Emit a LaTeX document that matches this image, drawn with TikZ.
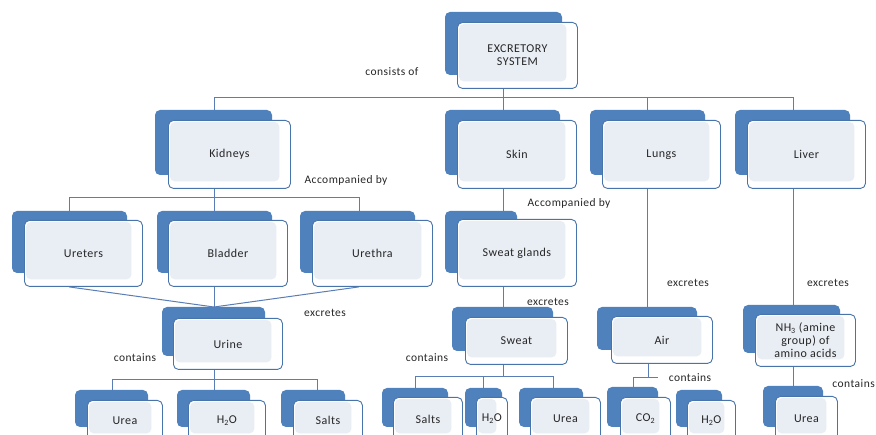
\documentclass[tikz,border=0pt]{standalone}
\usepackage{fontspec}
\setmainfont{Carlito}[LetterSpace=4]
\usetikzlibrary{calc}
\pgfdeclarelayer{bg}\pgfsetlayers{bg,main}
\definecolor{bblue}{HTML}{4F81BD}
\definecolor{lnblue}{HTML}{5A7DB5}
\definecolor{lite}{HTML}{E9EDF4}
\definecolor{tx}{HTML}{262626}
\tikzset{
  bk/.style={fill=bblue, rounded corners=5pt},
  fr/.style={draw=bblue!90!black, line width=0.9pt, fill=white, rounded corners=5pt,
    inner sep=1pt, align=center, text=tx, font=\fontsize{12}{13}\selectfont,
    path picture={\fill[lite] ([shift={(1.5pt,-1.5pt)}]path picture bounding box.north west)
      rectangle ([shift={(-11pt,7pt)}]path picture bounding box.south east);}},
  ln/.style={draw=lnblue, line width=1pt},
  lbl/.style={text=tx, font=\fontsize{11.5}{13}\selectfont, inner sep=0pt},
}
% name, back x1, back y1, front x1, front y1, front x2, front y2, text, back x2
\newcommand\ebox[9]{%
  \fill[bk] (#2,#3) rectangle (#9,#7-13);
  \node[fr, anchor=north west, minimum width={(#6-#4)*1pt}, minimum height={(#7-#5)*1pt}]
    (#1) at (#4,#5) {#8};
}
\begin{document}
\begin{tikzpicture}[x=1pt,y=-1pt]
\useasboundingbox (0,0) rectangle (876,435);
% top
\ebox{ex}{445}{12}{457}{22}{577}{88}{EXCRETORY\\SYSTEM}{562}
\ebox{kid}{155}{110}{168}{120}{290}{188}{Kidneys}{272}
\ebox{skin}{445}{110}{457}{120}{576}{188}{Skin}{560}
\ebox{lung}{590}{110}{602}{120}{720}{188}{Lungs}{705}
\ebox{liv}{735}{110}{747}{120}{865}{188}{Liver}{850}
% kidney group
\ebox{ure}{12}{211}{24}{220}{142}{286}{Ureters}{127}
\ebox{bla}{157}{211}{168}{220}{287}{286}{Bladder}{272}
\ebox{uth}{300}{211}{312}{220}{432}{286}{Urethra}{415}
\ebox{urine}{162}{307}{173}{318}{282}{369}{Urine}{265}
\ebox{u1}{75}{390}{87}{400}{162}{440}{Urea}{148}
\ebox{h1}{177}{390}{188}{400}{265}{440}{H\textsubscript{2}O}{250}
\ebox{s1}{281}{390}{293}{400}{362}{440}{Salts}{345}
% skin group
\ebox{sg}{445}{211}{457}{219}{576}{286}{Sweat glands}{517}
\ebox{sweat}{452}{307}{465}{317}{567}{364}{Sweat}{553}
\ebox{s2}{382}{388}{393}{397}{462}{440}{Salts}{448}
\ebox{h2}{465}{388}{476}{397}{507}{440}{H\textsubscript{2}O}{502}
\ebox{u2}{519}{388}{530}{397}{600}{440}{Urea}{583}
% lungs group
\ebox{air}{597}{307}{611}{316}{712}{363}{Air}{697}
\ebox{co}{607}{387}{620}{397}{670}{440}{CO\textsubscript{2}}{658}
\ebox{h3}{676}{390}{687}{400}{735}{440}{H\textsubscript{2}O}{722}
% liver group
\ebox{nh}{743}{305}{755}{314}{855}{366}{NH\textsubscript{3} (amine\\group) of\\amino acids}{840}
\ebox{u3}{763}{386}{775}{396}{837}{440}{Urea}{823}
% labels
\node[lbl] (t1) at (392,72) {consists of};
\node[lbl] (t2) at (346,180) {Accompanied by};
\node[lbl] (t3) at (569,203) {Accompanied by};
\node[lbl] (t4) at (325,313) {excretes};
\node[lbl] (t5) at (135,358) {contains};
\node[lbl] (t6) at (548,302) {excretes};
\node[lbl] (t7) at (427,358) {contains};
\node[lbl] (t8) at (688,283) {excretes};
\node[lbl] (t9) at (690,378) {contains};
\node[lbl] (t10) at (828,283) {excretes};
\node[lbl, anchor=east] (t11) at (875,384) {contains};
% connectors
\begin{pgfonlayer}{bg}
\coordinate (c1) at (503,98);
\coordinate (kx) at (214,98);
\coordinate (lx) at (647,98);
\coordinate (vx) at (793,98);
\draw[ln] (ex.south -| c1) -- (skin.north -| c1);
\draw[ln] (kid.north -| kx) -- (kx) -- (vx) -- (liv.north -| vx);
\draw[ln] (lx) -- (lung.north -| lx);
% kidney
\coordinate (k1) at (69,198);
\coordinate (k2) at (214,198);
\coordinate (k3) at (359,198);
\coordinate (m) at (214,307);
\draw[ln] (kid.south -| k2) -- (k2);
\draw[ln] (ure.north -| k1) -- (k1) -- (k3) -- (uth.north -| k3);
\draw[ln] (k2) -- (bla.north -| k2);
\draw[ln] (ure.south -| k1) -- (m);
\draw[ln] (uth.south -| k3) -- (m);
\draw[ln] (bla.south -| k2) -- (urine.north -| k2);
\coordinate (r1) at (112,380);
\coordinate (r2) at (214,380);
\coordinate (r3) at (317,380);
\draw[ln] (urine.south -| r2) -- (r2);
\draw[ln] (u1.north -| r1) -- (r1) -- (r3) -- (s1.north -| r3);
\draw[ln] (r2) -- (h1.north -| r2);
% skin
\draw[ln] (skin.south -| c1) -- (sg.north -| c1);
\draw[ln] (sg.south -| c1) -- (sweat.north -| c1);
\coordinate (w1) at (415,377);
\coordinate (w2) at (483,377);
\coordinate (w3) at (553,377);
\coordinate (wc) at (503,377);
\draw[ln] (sweat.south -| wc) -- (wc);
\draw[ln] (s2.north -| w1) -- (w1) -- (w3) -- (u2.north -| w3);
\draw[ln] (w2) -- (h2.north -| w2);
% lungs
\draw[ln] (lung.south -| lx) -- (air.north -| lx);
\coordinate (a0) at (648,378);
\coordinate (a1) at (633,378);
\coordinate (a2) at (658,378);
\draw[ln] (air.south -| a0) -- (a0);
\draw[ln] (co.north -| a1) -- (a1) -- (a2);
% liver
\draw[ln] (liv.south -| vx) -- (nh.north -| vx);
\draw[ln] (nh.south -| vx) -- (u3.north -| vx);
\end{pgfonlayer}
\end{tikzpicture}
\end{document}
